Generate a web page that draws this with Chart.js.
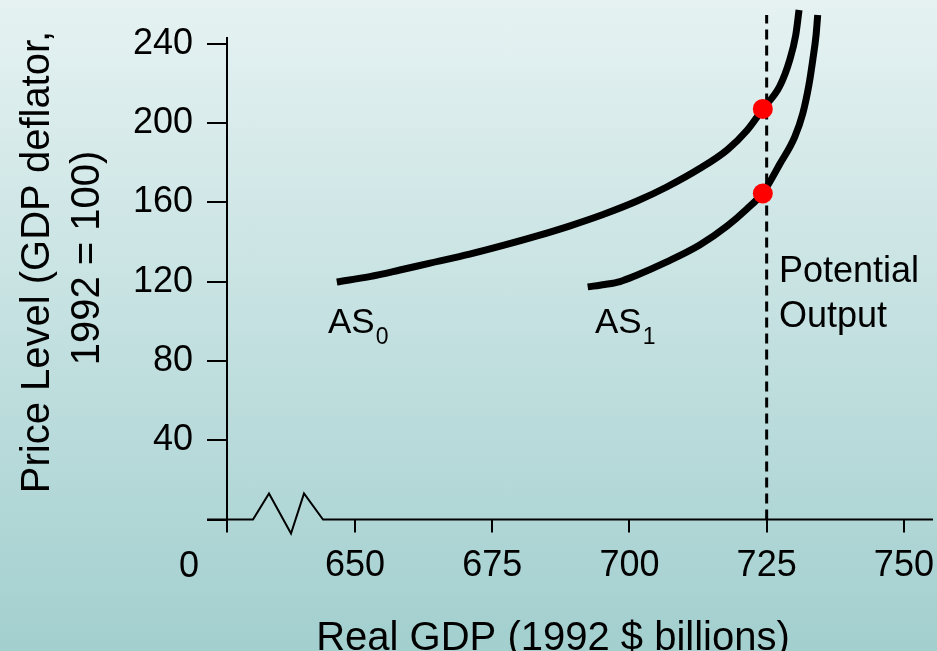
<!DOCTYPE html>
<html>
<head>
<meta charset="utf-8">
<title>Aggregate supply and potential output</title>
<script src="https://cdn.jsdelivr.net/npm/chart.js@4.4.1/dist/chart.umd.min.js"></script>
<style>
  html, body { margin: 0; padding: 0; }
  body {
    width: 937px; height: 651px; overflow: hidden;
    background: linear-gradient(to bottom, #e6f2f2 0%, #a3cfcf 100%);
  }
  canvas { display: block; }
</style>
</head>
<body>
<canvas id="c" width="937" height="651"></canvas>
<script>
// Aggregate supply curve AS0: real GDP (1992 $ billions) and price level
const as0Gdp   = [646.7, 652.7, 658.2, 663.7, 670.9, 677.0, 683.2, 689.2, 695.2, 701.4, 706.8, 712.8, 717.8, 721.4, 724.3, 727.4, 729.2, 730.3, 730.9];
const as0Price = [119.9, 122.6, 125.9, 129.4, 133.9, 138.3, 143.1, 148.2, 153.9, 160.7, 167.8, 177.1, 186.5, 196.3, 207.2, 218.8, 231.9, 244.5, 257.1];

// Aggregate supply curve AS1 (shifted right)
const as1Gdp   = [692.4, 695.5, 698.3, 701.0, 706.8, 712.8, 717.8, 721.4, 724.3, 727.4, 730.1, 731.6, 732.7, 733.4, 734.0, 734.3];
const as1Price = [117.4, 118.6, 120.1, 122.9, 130.0, 138.5, 148.1, 156.7, 164.8, 179.4, 193.0, 205.1, 219.3, 231.9, 244.5, 254.6];

// Potential output and the points where each curve meets it
const potentialGdp = 725;
const potentialTop = 254.6;
const eqGdp   = [724.3, 724.3];
const eqPrice = [207.2, 164.5];

// Axis ticks
const xTicks = [650, 675, 700, 725, 750];
const yTicks = [0, 40, 80, 120, 160, 200, 240];
const xOrigin = 626.7;   // where the broken GDP axis meets the price axis

const FONT = '"Liberation Sans", Arial, sans-serif';

const toPoints = (xs, ys) => xs.map((x, i) => ({ x, y: ys[i] }));

// Broken x axis, origin label, axis titles and curve annotations
const decor = {
  id: 'decor',
  beforeDatasetsDraw(chart) {
    const { ctx } = chart;
    const xs = chart.scales.x, ys = chart.scales.y;
    const y0 = ys.getPixelForValue(0);
    const L = xs.left;
    ctx.save();
    ctx.strokeStyle = '#000';
    ctx.lineWidth = 2;
    ctx.lineJoin = 'miter';
    ctx.beginPath();
    ctx.moveTo(L - 20, y0);
    ctx.lineTo(L + 26, y0);
    ctx.lineTo(L + 42, y0 - 26);
    ctx.lineTo(L + 64, y0 + 14);
    ctx.lineTo(L + 77, y0 - 26);
    ctx.lineTo(L + 96, y0);
    ctx.lineTo(xs.right, y0);
    ctx.stroke();
    ctx.restore();
  },
  afterDraw(chart) {
    const { ctx } = chart;
    ctx.save();
    ctx.fillStyle = '#000';

    // shared origin label
    ctx.font = '36px ' + FONT;
    ctx.textAlign = 'center';
    ctx.textBaseline = 'alphabetic';
    ctx.fillText('0', 189, 577);

    // x axis title
    ctx.font = '40px ' + FONT;
    ctx.fillText('Real GDP (1992 $ billions)', 553, 650);

    // y axis title (two lines, rotated)
    ctx.save();
    ctx.translate(49, 262);
    ctx.rotate(-Math.PI / 2);
    ctx.font = '40px ' + FONT;
    ctx.fillText('Price Level (GDP deflator,', 0, 0);
    ctx.restore();
    ctx.save();
    ctx.translate(99, 258);
    ctx.rotate(-Math.PI / 2);
    ctx.font = '40px ' + FONT;
    ctx.fillText('1992 = 100)', 0, 0);
    ctx.restore();

    // curve labels with subscripts
    ctx.textAlign = 'left';
    const subLabel = (x, y, main, sub) => {
      ctx.font = '35px ' + FONT;
      ctx.fillText(main, x, y);
      const w = ctx.measureText(main).width;
      ctx.font = '23px ' + FONT;
      ctx.fillText(sub, x + w + 1, y + 11);
    };
    subLabel(328, 333, 'AS', '0');
    subLabel(595, 333, 'AS', '1');

    ctx.font = '36px ' + FONT;
    ctx.fillText('Potential', 779, 282);
    ctx.fillText('Output', 779, 327);
    ctx.restore();
  }
};

new Chart(document.getElementById('c'), {
  type: 'line',
  data: {
    datasets: [
      {
        label: 'Equilibrium',
        type: 'scatter',
        data: toPoints(eqGdp, eqPrice),
        pointRadius: 10,
        pointBackgroundColor: '#ff0000',
        pointBorderWidth: 0,
        order: 0,
        clip: false
      },
      {
        label: 'AS0',
        data: toPoints(as0Gdp, as0Price),
        borderColor: '#000',
        borderWidth: 7,
        borderCapStyle: 'butt',
        pointRadius: 0,
        cubicInterpolationMode: 'monotone',
        fill: false,
        order: 1,
        clip: false
      },
      {
        label: 'AS1',
        data: toPoints(as1Gdp, as1Price),
        borderColor: '#000',
        borderWidth: 7,
        borderCapStyle: 'butt',
        pointRadius: 0,
        cubicInterpolationMode: 'monotone',
        fill: false,
        order: 1,
        clip: false
      },
      {
        label: 'Potential Output',
        data: [{ x: potentialGdp, y: 0 }, { x: potentialGdp, y: potentialTop }],
        borderColor: '#000',
        borderWidth: 3,
        borderDash: [10, 6],
        pointRadius: 0,
        fill: false,
        order: 2,
        clip: false
      }
    ]
  },
  options: {
    responsive: false,
    animation: false,
    devicePixelRatio: 1,
    layout: { autoPadding: false, padding: { left: 0, right: 4, top: 38, bottom: 0 } },
    plugins: { legend: { display: false }, tooltip: { enabled: false } },
    scales: {
      x: {
        type: 'linear',
        min: xOrigin,
        max: 755.3,
        afterBuildTicks: s => { s.ticks = [xOrigin, ...xTicks].map(v => ({ value: v })); },
        afterFit: s => {
          s.height = 131.5;
          s.paddingLeft = 0; s.paddingRight = 0; s.paddingTop = 0; s.paddingBottom = 0;
        },
        border: { display: false },
        grid: { drawOnChartArea: false, tickLength: 13, color: '#000', lineWidth: 2 },
        ticks: {
          color: '#000',
          font: { size: 36, family: FONT },
          padding: 12,
          maxRotation: 0,
          autoSkip: false,
          callback: v => (v === xOrigin ? '' : String(v))
        }
      },
      y: {
        type: 'linear',
        min: 0,
        max: 243,
        afterBuildTicks: s => { s.ticks = yTicks.map(v => ({ value: v })); },
        afterFit: s => {
          s.width = 227;
          s.paddingLeft = 0; s.paddingRight = 0; s.paddingTop = 0; s.paddingBottom = 0;
        },
        border: { display: true, color: '#000', width: 2 },
        grid: { drawOnChartArea: false, tickLength: 20, color: '#000', lineWidth: 2 },
        ticks: {
          color: '#000',
          font: { size: 36, family: FONT },
          padding: 14,
          autoSkip: false,
          callback: v => (v === 0 ? '' : String(v))
        }
      }
    }
  },
  plugins: [decor]
});
</script>
</body>
</html>
